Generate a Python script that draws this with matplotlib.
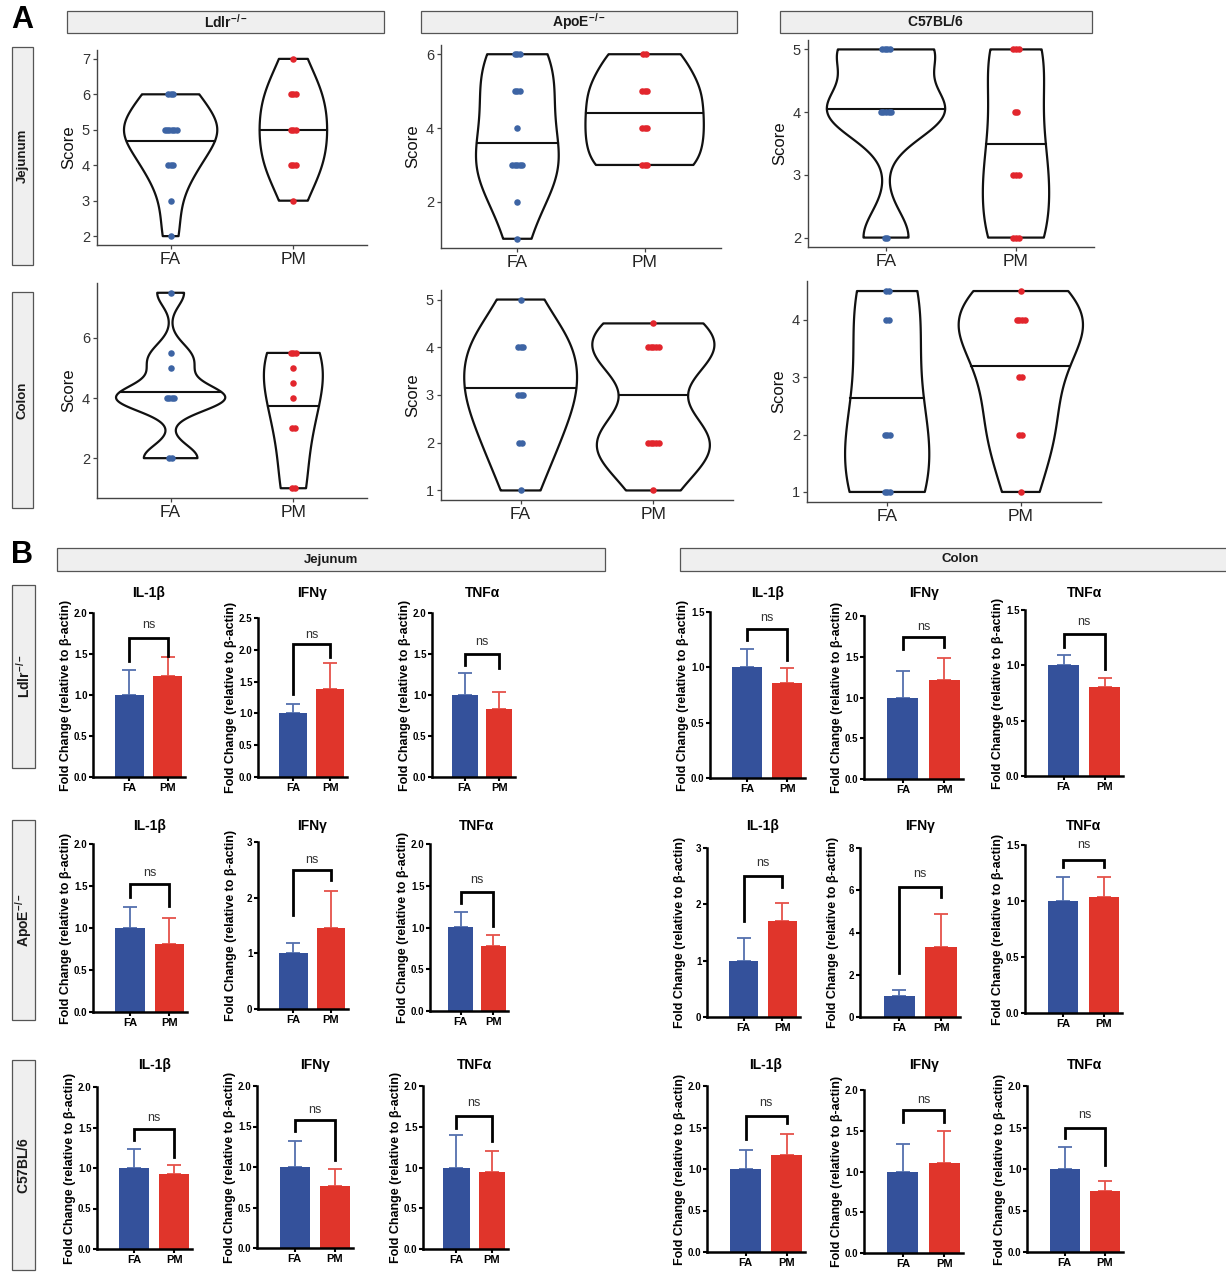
import numpy as np
import matplotlib
matplotlib.use('Agg')
import matplotlib.pyplot as plt
from matplotlib import mlab, cbook
from matplotlib.patches import Rectangle
import matplotlib.transforms as mtransforms

plt.rcParams['font.family'] = ['Liberation Sans', 'DejaVu Sans']
plt.rcParams['mathtext.fontset'] = 'custom'
plt.rcParams['mathtext.rm'] = 'Liberation Sans'
plt.rcParams['mathtext.bf'] = 'Liberation Sans:bold'
plt.rcParams['mathtext.it'] = 'Liberation Sans:italic'

# ---------------- DATA ----------------
groups = ['FA', 'PM']
strains = [r'$\mathbf{Ldlr}^{\mathbf{-/-}}$', r'$\mathbf{ApoE}^{\mathbf{-/-}}$', r'$\mathbf{C57BL/6}$']
tissues = ['Jejunum', 'Colon']

# Panel A: histology scores (individual animals)
jej_ldlr_fa = [6, 6, 6, 5, 5, 5, 5, 5, 5, 4, 4, 4, 3, 2]
jej_ldlr_pm = [7, 6, 6, 6, 5, 5, 5, 4, 4, 4, 3]
jej_apoe_fa = [6, 6, 6, 5, 5, 5, 4, 3, 3, 3, 3, 3, 2, 1]
jej_apoe_pm = [6, 6, 5, 5, 5, 4, 4, 4, 3, 3, 3]
jej_c57_fa = [5, 5, 5, 5, 4, 4, 4, 4, 4, 2, 2]
jej_c57_pm = [5, 5, 5, 4, 4, 3, 3, 3, 2, 2, 2]
col_ldlr_fa = [7.5, 5.5, 5, 4, 4, 4, 4, 2, 2]
col_ldlr_pm = [5.5, 5.5, 5.5, 5, 4.5, 4, 3, 3, 1, 1]
col_apoe_fa = [5, 4, 4, 4, 3, 3, 3, 2, 2, 1]
col_apoe_pm = [4.5, 4, 4, 4, 4, 4, 2, 2, 2, 2, 2, 1]
col_c57_fa = [4.5, 4.5, 4, 4, 2, 2, 2, 1, 1, 1]
col_c57_pm = [4.5, 4, 4, 4, 4, 3, 3, 2, 2, 1]
# horizontal line drawn across each violin (FA, PM)
jej_line = [(4.67, 5.0), (3.6, 4.4), (4.05, 3.5)]
col_line = [(4.2, 3.75), (3.15, 3.0), (2.63, 3.2)]

score_ticks = [[2, 3, 4, 5, 6, 7], [2, 4, 6], [2, 3, 4, 5],
               [2, 4, 6], [1, 2, 3, 4, 5], [1, 2, 3, 4]]

# Panel B: qPCR fold change, mean and SEM  -> (FA, FA_sem, PM, PM_sem)
genes = ['IL-1β', 'IFNγ', 'TNFα']
jej_fold = [  # rows: Ldlr, ApoE, C57 ; cols: IL-1b, IFNg, TNFa
    [(1.00, 0.31, 1.23, 0.23), (1.01, 0.14, 1.39, 0.40), (1.00, 0.27, 0.83, 0.21)],
    [(1.00, 0.25, 0.81, 0.31), (1.00, 0.19, 1.45, 0.67), (1.01, 0.17, 0.78, 0.13)],
    [(1.00, 0.23, 0.93, 0.11), (1.00, 0.32, 0.76, 0.22), (1.00, 0.40, 0.95, 0.25)],
]
col_fold = [
    [(1.00, 0.17, 0.86, 0.13), (1.00, 0.33, 1.22, 0.27), (1.00, 0.09, 0.80, 0.09)],
    [(1.00, 0.41, 1.70, 0.32), (1.00, 0.27, 3.33, 1.55), (1.00, 0.21, 1.04, 0.17)],
    [(1.00, 0.23, 1.17, 0.25), (1.00, 0.34, 1.11, 0.39), (1.00, 0.26, 0.74, 0.12)],
]
jej_ymax = [[2.0, 2.5, 2.0], [2.0, 3, 2.0], [2.0, 2.0, 2.0]]
col_ymax = [[1.5, 2.0, 1.5], [3, 8, 1.5], [2.0, 2.0, 2.0]]
jej_ystep = [[0.5, 0.5, 0.5], [0.5, 1, 0.5], [0.5, 0.5, 0.5]]
col_ystep = [[0.5, 0.5, 0.5], [1, 2, 0.5], [0.5, 0.5, 0.5]]
sig_label = 'ns'

# ---------------- LAYOUT / STYLE ----------------
W, H = 1226, 1275
fig = plt.figure(figsize=(W / 100, H / 100), dpi=100)

BLUE_DOT = '#3D64A4'
RED_DOT = '#E2262D'
BLUE_BAR = '#34519B'
RED_BAR = '#E0352B'
BLUE_ERR = '#5470AE'
RED_ERR = '#E5524A'


def add_ax(l, t, r, b):
    return fig.add_axes([l / W, 1 - b / H, (r - l) / W, (b - t) / H])


def strip(l, t, r, b, text, rot=0, size=10):
    rect = Rectangle((l / W, 1 - b / H), (r - l) / W, (b - t) / H, transform=fig.transFigure,
                     facecolor='#EFEFEF', edgecolor='#555555', lw=0.9, zorder=0)
    fig.add_artist(rect)
    fig.text((l + r) / 2 / W, 1 - (t + b) / 2 / H, text, rotation=rot, ha='center', va='center',
             fontsize=size, fontweight='bold', color='#1a1a1a')


def make_kde_method(adjust):
    def nrd0(kde):
        x = np.asarray(kde.dataset).ravel()
        sd = np.std(x, ddof=1)
        q75, q25 = np.percentile(x, [75, 25])
        lo = min(sd, (q75 - q25) / 1.34)
        if lo <= 0:
            lo = sd
        return adjust * 0.9 * lo * len(x) ** -0.2 / sd

    def method(X, coords):
        return mlab.GaussianKDE(X, nrd0).evaluate(coords)
    return method


def violin_panel(box, fa, pm, lines, widths, adjusts, ticks):
    ax = add_ax(*box)
    data = [fa, pm]
    stats = [cbook.violin_stats([d], make_kde_method(a), points=300)[0]
             for d, a in zip(data, adjusts)]
    parts = ax.violin(stats, positions=[1, 2], widths=widths, showextrema=False)
    for b in parts['bodies']:
        b.set_facecolor('none')
        b.set_edgecolor('#111111')
        b.set_linewidth(1.6)
        b.set_alpha(1)
    for i, (d, st, w, col, m) in enumerate(zip(data, stats, widths, [BLUE_DOT, RED_DOT], lines)):
        pos = i + 1
        half = np.interp(m, st['coords'], st['vals']) / np.max(st['vals']) * w / 2
        ax.plot([pos - half, pos + half], [m, m], color='#111111', lw=1.5, zorder=3)
        vals, counts = np.unique(d, return_counts=True)
        for v, k in zip(vals, counts):
            offs = (np.arange(k) - (k - 1) / 2) * 0.02
            ax.scatter(pos + offs, [v] * k, s=22, color=col, zorder=4, linewidths=0)
    allv = np.concatenate([fa, pm])
    rng = allv.max() - allv.min()
    ax.set_ylim(allv.min() - 0.05 * rng, allv.max() + 0.05 * rng)
    ax.set_xlim(0.4, 2.6)
    ax.set_xticks([1, 2])
    ax.set_xticklabels(groups, fontsize=12.5)
    ax.set_yticks(ticks)
    ax.set_yticklabels([str(t) for t in ticks], fontsize=10.5)
    ax.set_ylabel('Score', fontsize=12, color='#111111', labelpad=4)
    for s in ['top', 'right']:
        ax.spines[s].set_visible(False)
    for s in ['left', 'bottom']:
        ax.spines[s].set_color('#444444')
        ax.spines[s].set_linewidth(1.0)
    ax.tick_params(axis='both', colors='#444444', length=3, width=0.9, pad=2)
    ax.tick_params(axis='x', labelcolor='#222222')
    ax.tick_params(axis='y', labelcolor='#333333')
    return ax


def bar_panel(box, title, title_y, ymax, step, vals, br):
    fa, fa_e, pm, pm_e = vals
    ax = add_ax(*box)
    ax.bar([1, 2], [fa, pm], width=0.75, color=[BLUE_BAR, RED_BAR], zorder=2)
    ax.errorbar([1], [fa], yerr=[[0], [fa_e]], fmt='none', ecolor=BLUE_ERR, elinewidth=1.3,
                capsize=5, capthick=1.3, zorder=1)
    ax.errorbar([2], [pm], yerr=[[0], [pm_e]], fmt='none', ecolor=RED_ERR, elinewidth=1.3,
                capsize=5, capthick=1.3, zorder=1)
    top, lleg, rleg, nsy = br
    ax.plot([1, 1, 2, 2], [lleg, top, top, rleg], color='black', lw=2.0, clip_on=False,
            solid_joinstyle='miter', zorder=3)
    ax.text(1.5, nsy, sig_label, ha='center', va='center', fontsize=9, color='#333333')
    ax.set_xlim(0.06, 2.45)
    ax.set_ylim(0, ymax)
    ticks = np.arange(0, ymax + 1e-9, step)
    ax.set_yticks(ticks)
    if step < 1:
        ax.set_yticklabels(['%.1f' % t for t in ticks])
    else:
        ax.set_yticklabels(['%d' % t for t in ticks])
    ax.set_xticks([1, 2])
    ax.set_xticklabels(groups)
    for lab in ax.get_yticklabels():
        lab.set_fontweight('bold')
        lab.set_fontsize(7)
    for lab in ax.get_xticklabels():
        lab.set_fontweight('bold')
        lab.set_fontsize(8)
    for s in ['top', 'right']:
        ax.spines[s].set_visible(False)
    for s in ['left', 'bottom']:
        ax.spines[s].set_linewidth(1.8)
    ax.tick_params(axis='both', length=3, width=1.5, pad=1)
    ax.set_ylabel('Fold Change (relative to β-actin)', fontsize=9, fontweight='bold')
    wpx = box[2] - box[0]
    ax.yaxis.set_label_coords(-21.0 / wpx, 0.5)
    tr = mtransforms.blended_transform_factory(ax.transData, fig.transFigure)
    ax.text(1.5, 1 - title_y / H, title, transform=tr, ha='center', va='center',
            fontsize=10, fontweight='bold')
    return ax


# ---------------- PANEL A ----------------
fig.text(22 / W, 1 - 20 / H, 'A', fontsize=22, fontweight='bold',
         family=['Liberation Sans Narrow', 'Liberation Sans'], ha='center', va='center')
strip(67, 11, 384, 33, strains[0])
strip(421, 11, 737, 33, strains[1])
strip(780, 11, 1092, 33, strains[2])
strip(12, 47, 33, 265, tissues[0], rot=90, size=9.5)
strip(12, 292, 33, 508, tissues[1], rot=90, size=9.5)

A_boxes = [(97, 50, 367, 245), (441, 45, 721, 248), (808, 40, 1094, 247),
           (97, 283, 367, 498), (441, 290, 733, 500), (807, 281, 1101, 502)]
A_data = [(jej_ldlr_fa, jej_ldlr_pm), (jej_apoe_fa, jej_apoe_pm), (jej_c57_fa, jej_c57_pm),
          (col_ldlr_fa, col_ldlr_pm), (col_apoe_fa, col_apoe_pm), (col_c57_fa, col_c57_pm)]
A_lines = jej_line + col_line
A_widths = [(0.76, 0.55), (0.65, 0.93), (0.91, 0.51),
            (0.89, 0.48), (0.85, 0.92), (0.63, 0.93)]
A_adjust = [(1.6, 1.2), (1.3, 1.0), (1.0, 1.0),
            (1.0, 1.2), (1.0, 1.0), (1.3, 1.0)]
for box, (fa, pm), ln, w, adj, tk in zip(A_boxes, A_data, A_lines, A_widths, A_adjust, score_ticks):
    violin_panel(box, np.array(fa, float), np.array(pm, float), ln, list(w), adj, tk)

# ---------------- PANEL B ----------------
fig.text(22 / W, 1 - 555 / H, 'B', fontsize=22, fontweight='bold',
         family=['Liberation Sans Narrow', 'Liberation Sans'], ha='center', va='center')
strip(57, 548, 605, 571, tissues[0], size=9.5)
strip(680, 548, 1240, 571, tissues[1], size=9.5)
strip(12, 585, 35, 768, strains[0], rot=90, size=10)
strip(12, 820, 35, 1020, strains[1], rot=90, size=10)
strip(12, 1060, 35, 1270, strains[2], rot=90, size=10)

B_boxes_jej = [[(93, 613, 185, 777), (258, 618, 347, 777), (432, 613, 515, 777)],
               [(93, 844, 187, 1012), (258, 842, 348, 1009), (430, 844, 508, 1011)],
               [(97, 1087, 192, 1249), (257, 1086, 353, 1248), (423, 1086, 508, 1249)]]
B_boxes_col = [[(710, 612, 805, 778), (864, 616, 963, 779), (1025, 610, 1123, 776)],
               [(707, 848, 800, 1017), (860, 848, 960, 1017), (1025, 845, 1122, 1013)],
               [(707, 1086, 805, 1252), (864, 1090, 963, 1253), (1027, 1086, 1123, 1252)]]
title_rows = [593, 826, 1065]
# bracket geometry (top, left-leg end, right-leg end, label y) in data units
br_jej = [[(1.70, 1.41, 1.48, 1.85), (2.09, 1.30, 1.885, 2.24), (1.50, 1.37, 1.33, 1.65)],
          [(1.52, 1.37, 1.26, 1.66), (2.49, 1.69, 2.32, 2.68), (1.42, 1.29, 1.02, 1.57)],
          [(1.48, 1.35, 1.14, 1.62), (1.58, 1.45, 1.09, 1.70), (1.63, 1.49, 1.33, 1.79)]]
br_col = [[(1.35, 1.25, 1.07, 1.45), (1.74, 1.60, 1.62, 1.87), (1.28, 1.17, 0.97, 1.39)],
          [(2.50, 1.71, 2.30, 2.73), (6.14, 2.06, 5.67, 6.77), (1.37, 1.30, 1.30, 1.50)],
          [(1.64, 1.36, 1.55, 1.80), (1.75, 1.61, 1.61, 1.88), (1.50, 1.37, 1.05, 1.65)]]

for r in range(3):
    for c in range(3):
        bar_panel(B_boxes_jej[r][c], genes[c], title_rows[r], jej_ymax[r][c], jej_ystep[r][c],
                  jej_fold[r][c], br_jej[r][c])
        bar_panel(B_boxes_col[r][c], genes[c], title_rows[r], col_ymax[r][c], col_ystep[r][c],
                  col_fold[r][c], br_col[r][c])

fig.savefig('out.png', dpi=100, facecolor='white')
